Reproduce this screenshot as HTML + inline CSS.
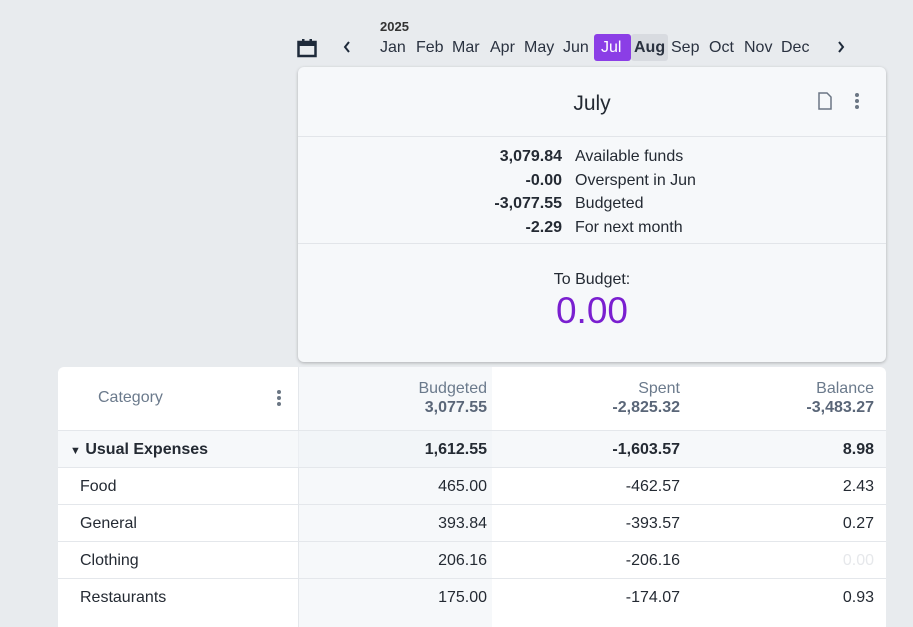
<!DOCTYPE html>
<html><head><style>
*{margin:0;padding:0;box-sizing:border-box}
body{width:913px;height:615px;background:#e8ebee;font-family:"Liberation Sans",sans-serif;color:#242a33;position:relative;overflow:hidden}
.a{position:absolute;white-space:nowrap}
.m{font-size:16px;color:#2a3240}
.card{position:absolute;left:298px;top:67px;width:588px;height:295px;background:#f6f8fa;border-radius:6px;box-shadow:0 1px 3px rgba(0,0,0,.25)}
.tbl{position:absolute;left:58px;top:367px;width:828px;height:260px;background:#fff;border-radius:6px 6px 0 0}
.row{position:absolute;left:0;width:828px;border-top:1px solid #e4e7eb;height:37px}
.r{text-align:right;font-size:16px}
</style></head><body>
<svg class="a" style="left:297px;top:38px" width="20" height="20" viewBox="0 0 20 20"><rect x="1.5" y="4" width="17" height="14" fill="none" stroke="#1e2a3a" stroke-width="2.5"/><rect x="1.5" y="4" width="17" height="4" fill="#1e2a3a"/><rect x="5" y="1" width="2.5" height="4" fill="#1e2a3a"/><rect x="12.5" y="1" width="2.5" height="4" fill="#1e2a3a"/></svg>
<svg class="a" style="left:343px;top:41px" width="8" height="12"><path d="M6 1L2 6l4 5" fill="none" stroke="#1e2a3a" stroke-width="2"/></svg>
<div class="a" style="left:380px;top:19px;font-size:13px;font-weight:bold;color:#333">2025</div>
<div class="a m" style="left:380px;top:39px">Jan</div>
<div class="a m" style="left:416px;top:39px">Feb</div>
<div class="a m" style="left:452px;top:39px">Mar</div>
<div class="a m" style="left:490px;top:39px">Apr</div>
<div class="a m" style="left:524px;top:39px">May</div>
<div class="a m" style="left:563px;top:39px">Jun</div>
<div class="a" style="left:594px;top:34px;width:37px;height:27px;background:#8b3ee6;border-radius:3px"></div>
<div class="a m" style="left:601px;top:39px;color:#fff">Jul</div>
<div class="a" style="left:631px;top:34px;width:37px;height:27px;background:#d8dbe0;border-radius:3px"></div>
<div class="a m" style="left:634px;top:39px;font-weight:bold">Aug</div>
<div class="a m" style="left:671px;top:39px">Sep</div>
<div class="a m" style="left:709px;top:39px">Oct</div>
<div class="a m" style="left:744px;top:39px">Nov</div>
<div class="a m" style="left:781px;top:39px">Dec</div>
<svg class="a" style="left:837px;top:41px" width="8" height="12"><path d="M2 1l4 5-4 5" fill="none" stroke="#1e2a3a" stroke-width="2"/></svg>
<div class="card">
<div class="a" style="left:0;width:588px;top:25px;text-align:center;font-size:21px">July</div>
<svg class="a" style="left:520px;top:25px" width="14" height="18"><path d="M1 1h8l4 4v12H1z" fill="none" stroke="#6b7684" stroke-width="1.5"/></svg>
<div class="a" style="left:557px;top:26px;width:4px;line-height:6px;font-size:0"><div style="width:4px;height:4px;border-radius:2px;background:#6b7684;margin-bottom:2px"></div><div style="width:4px;height:4px;border-radius:2px;background:#6b7684;margin-bottom:2px"></div><div style="width:4px;height:4px;border-radius:2px;background:#6b7684"></div></div>
<div class="a" style="left:0;top:69px;width:588px;border-top:1px solid #e2e5e9"></div>
<div class="a" style="left:0;top:176px;width:588px;border-top:1px solid #e2e5e9"></div>
<div class="a r" style="right:324px;top:78px;font-weight:bold;line-height:23.5px">3,079.84<br>-0.00<br>-3,077.55<br>-2.29</div>
<div class="a" style="left:277px;top:78px;font-size:16px;line-height:23.5px">Available funds<br>Overspent in Jun<br>Budgeted<br>For next month</div>
<div class="a" style="left:0;width:588px;top:204px;text-align:center;font-size:16px">To Budget:</div>
<div class="a" style="left:0;width:588px;top:223px;text-align:center;font-size:37px;color:#7a1fd0">0.00</div>
</div>
<div class="tbl">
<div class="a" style="left:240px;top:0;width:194px;height:260px;background:#f6f8fa"></div>
<div class="a" style="left:240px;top:0;height:260px;border-left:1px solid #e4e7eb"></div>
<div class="a" style="left:40px;top:22px;font-size:16px;color:#6b7a8c">Category</div>
<div class="a" style="left:219px;top:23px;font-size:0"><div style="width:4px;height:4px;border-radius:2px;background:#6b7684;margin-bottom:2px"></div><div style="width:4px;height:4px;border-radius:2px;background:#6b7684;margin-bottom:2px"></div><div style="width:4px;height:4px;border-radius:2px;background:#6b7684"></div></div>
<div class="a r" style="right:399px;top:12px;color:#6b7a8c;line-height:19px">Budgeted<br><b style="color:#5a6678">3,077.55</b></div>
<div class="a r" style="right:206px;top:12px;color:#6b7a8c;line-height:19px">Spent<br><b style="color:#5a6678">-2,825.32</b></div>
<div class="a r" style="right:12px;top:12px;color:#6b7a8c;line-height:19px">Balance<br><b style="color:#5a6678">-3,483.27</b></div>
<div class="row" style="top:63px;background:rgba(240,243,246,.6)"><div class="a" style="left:12px;top:10px;font-size:16px;font-weight:bold"><span style="font-size:11px">▼</span> Usual Expenses</div><div class="a r" style="right:399px;top:10px;font-weight:bold">1,612.55</div><div class="a r" style="right:206px;top:10px;font-weight:bold">-1,603.57</div><div class="a r" style="right:12px;top:10px;font-weight:bold">8.98</div></div>
<div class="row" style="top:100px"><div class="a" style="left:22px;top:10px;font-size:16px">Food</div><div class="a r" style="right:399px;top:10px">465.00</div><div class="a r" style="right:206px;top:10px">-462.57</div><div class="a r" style="right:12px;top:10px">2.43</div></div>
<div class="row" style="top:137px"><div class="a" style="left:22px;top:10px;font-size:16px">General</div><div class="a r" style="right:399px;top:10px">393.84</div><div class="a r" style="right:206px;top:10px">-393.57</div><div class="a r" style="right:12px;top:10px">0.27</div></div>
<div class="row" style="top:174px"><div class="a" style="left:22px;top:10px;font-size:16px">Clothing</div><div class="a r" style="right:399px;top:10px">206.16</div><div class="a r" style="right:206px;top:10px">-206.16</div><div class="a r" style="right:12px;top:10px;color:#e6e8eb">0.00</div></div>
<div class="row" style="top:211px"><div class="a" style="left:22px;top:10px;font-size:16px">Restaurants</div><div class="a r" style="right:399px;top:10px">175.00</div><div class="a r" style="right:206px;top:10px">-174.07</div><div class="a r" style="right:12px;top:10px">0.93</div></div>
</div>
</body></html>
